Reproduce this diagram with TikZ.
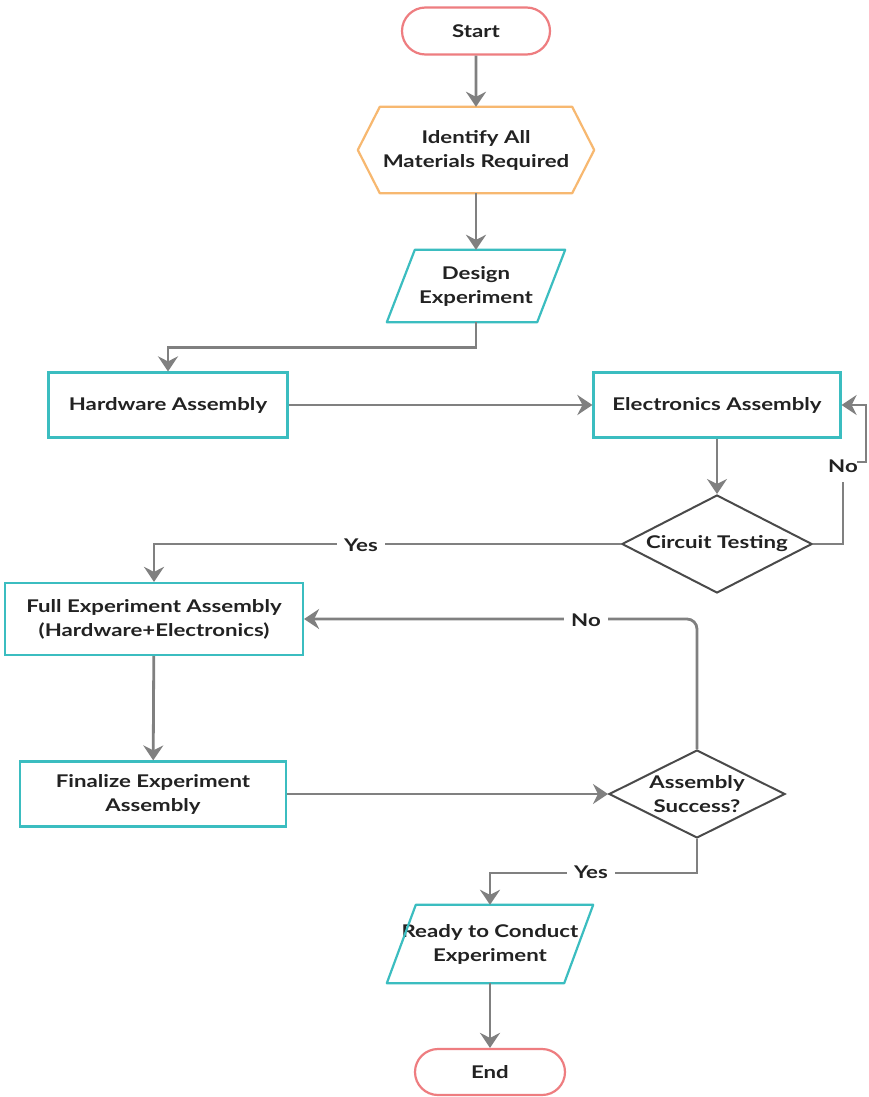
\documentclass[tikz,border=0pt]{standalone}
\usepackage{fontspec}
\setmainfont{Lato}[FakeStretch=1.27]
\usetikzlibrary{shapes.geometric,shapes.misc,arrows.meta}
\definecolor{tealc}{HTML}{3BBDC0}
\definecolor{pinkc}{HTML}{EE7D80}
\definecolor{orangec}{HTML}{F7B870}
\definecolor{linec}{HTML}{808080}
\definecolor{dgray}{HTML}{4A4A4A}
\definecolor{txt}{HTML}{222222}
\begin{document}
\begin{tikzpicture}[x=1pt,y=-1pt,
  every node/.style={font=\fontsize{17.5}{24}\selectfont\bfseries, text=txt, align=center, inner sep=0pt},
  term/.style={rounded rectangle, draw=pinkc, line width=2.2pt, minimum width=148pt, minimum height=47pt},
  proc/.style={rectangle, draw=tealc, line width=2.2pt},
  dec/.style={diamond, draw=dgray, line width=2pt, shape aspect=2},
  plain/.style={draw=linec, line width=2.8pt},
  conn/.style={plain, -{Stealth[length=15pt,width=20pt,inset=5pt]}},
  lbl/.style={fill=white, inner xsep=7pt, inner ysep=3pt}
]
\useasboundingbox[fill=white] (0,0) rectangle (868,1097);

% nodes
\node[term] (start) at (476,31) {Start};
\node[minimum width=192pt, minimum height=86pt] (ident) at (476,150) {Identify All\\Materials Required};
\draw[orangec, line width=2.2pt, line join=round]
  (ident.north west) -- (ident.north east) -- ([xshift=22pt]ident.east) -- (ident.south east)
  -- (ident.south west) -- ([xshift=-22pt]ident.west) -- cycle;
\node[minimum width=150pt, minimum height=72pt] (design) at (476,286) {Design\\Experiment};
\draw[tealc, line width=2.2pt, line join=round]
  ([xshift=-14pt]design.south west) -- ([xshift=14pt]design.north west)
  -- ([xshift=14pt]design.north east) -- ([xshift=-14pt]design.south east) -- cycle;
\node[proc, minimum width=239pt, minimum height=65pt] (hw) at (168,405) {Hardware Assembly};
\node[proc, minimum width=247pt, minimum height=65pt] (elec) at (717,405) {Electronics Assembly};
\node[dec, minimum width=190pt, minimum height=98pt, shape aspect=3] (ct) at (717,544) {Circuit Testing};
\node[proc, minimum width=298pt, minimum height=72pt] (fea) at (154,619) {Full Experiment Assembly\\(Hardware+Electronics)};
\node[proc, minimum width=266pt, minimum height=65pt] (fin) at (153,794) {Finalize Experiment\\Assembly};
\node[dec, minimum width=176pt, minimum height=88pt, shape aspect=2] (as) at (697,794) {Assembly\\Success?};
\node[minimum width=177pt, minimum height=78pt] (ready) at (490,944) {Ready to Conduct\\Experiment};
\draw[tealc, line width=2.2pt, line join=round]
  ([xshift=-14.5pt]ready.south west) -- ([xshift=14.5pt]ready.north west)
  -- ([xshift=14.5pt]ready.north east) -- ([xshift=-14.5pt]ready.south east) -- cycle;
\node[term, minimum width=150pt, minimum height=46pt] (end) at (490,1072) {End};

% connectors
\draw[conn] (start) -- (ident);
\draw[conn] (ident) -- (design);
\draw[conn] (design.south) -- ++(0,25) -| (hw.north);
\draw[conn] (hw) -- (elec);
\draw[conn] (elec) -- (ct);
\draw[conn] (ct.west) -| (fea.north);
\node[lbl] (yes1) at (361,545) {Yes};
\coordinate (c1) at (843,482);
\coordinate (c2) at (857,462);
\coordinate (c3) at (866,405);
\draw[plain] (ct.east) -| (c1);
\draw[conn] (c2) -| (c3) -- (elec.east);
\node (no1) at (843,466) {No};
\draw[conn, rounded corners=10pt] (as.north) |- (fea.east);
\node[lbl] (no2) at (586,620) {No};
\draw[conn] (fea) -- (fin);
\draw[conn] (fin) -- (as);
\draw[conn] (as.south) -- ++(0,34) -| (ready.north);
\node[lbl] (yes2) at (591,872) {Yes};
\draw[conn] (ready) -- (end);
\end{tikzpicture}
\end{document}
